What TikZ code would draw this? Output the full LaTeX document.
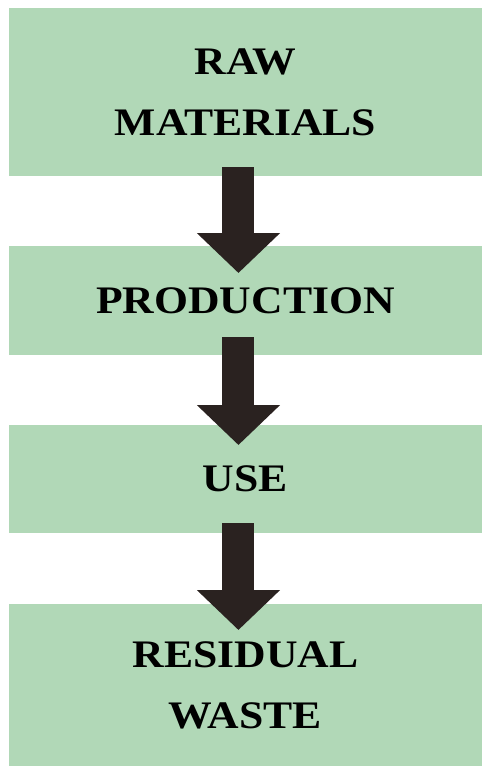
\documentclass[tikz,border=0pt]{standalone}
\usepackage{fontspec}
\setmainfont{Liberation Serif}[FakeStretch=1.12]
\usetikzlibrary{arrows.meta}
\definecolor{boxgreen}{RGB}{177,216,183}
\definecolor{arrowdark}{RGB}{42,34,32}

\begin{document}
\begin{tikzpicture}[x=1pt,y=1pt,yscale=-1,xscale=1,
	stagebox/.style={fill=boxgreen,draw=none,inner sep=0pt,minimum width=473.5pt,anchor=north west,align=center,font=\bfseries\fontsize{39}{61}\selectfont},
	bigarrow/.style={draw=arrowdark,line width=32pt,-{Triangle[width=81pt,length=40pt,fill=arrowdark]}}]
		\useasboundingbox (0,0) rectangle (482,766);
		
		%Shape: Rectangle [raw materials]
		\node [stagebox,minimum height=168.5pt] (raw) at (8.5,7.5) {RAW\\MATERIALS};
		%Shape: Rectangle [production]
		\node [stagebox,minimum height=109pt] (prod) at (8.5,246) {PRODUCTION};
		%Shape: Rectangle [use]
		\node [stagebox,minimum height=108pt] (use) at (8.5,425) {USE};
		%Shape: Rectangle [residual waste]
		\node [stagebox,minimum height=162pt] (waste) at (8.5,604) {RESIDUAL\\WASTE};
		
		%Block Arrows
		\draw [bigarrow] ([xshift=-7pt,yshift=-9pt]raw.south) -- ([xshift=-7pt,yshift=27pt]prod.north);
		\draw [bigarrow] ([xshift=-7pt,yshift=-18pt]prod.south) -- ([xshift=-7pt,yshift=20pt]use.north);
		\draw [bigarrow] ([xshift=-7pt,yshift=-10pt]use.south) -- ([xshift=-7pt,yshift=26pt]waste.north);
		
\end{tikzpicture}
\end{document}
